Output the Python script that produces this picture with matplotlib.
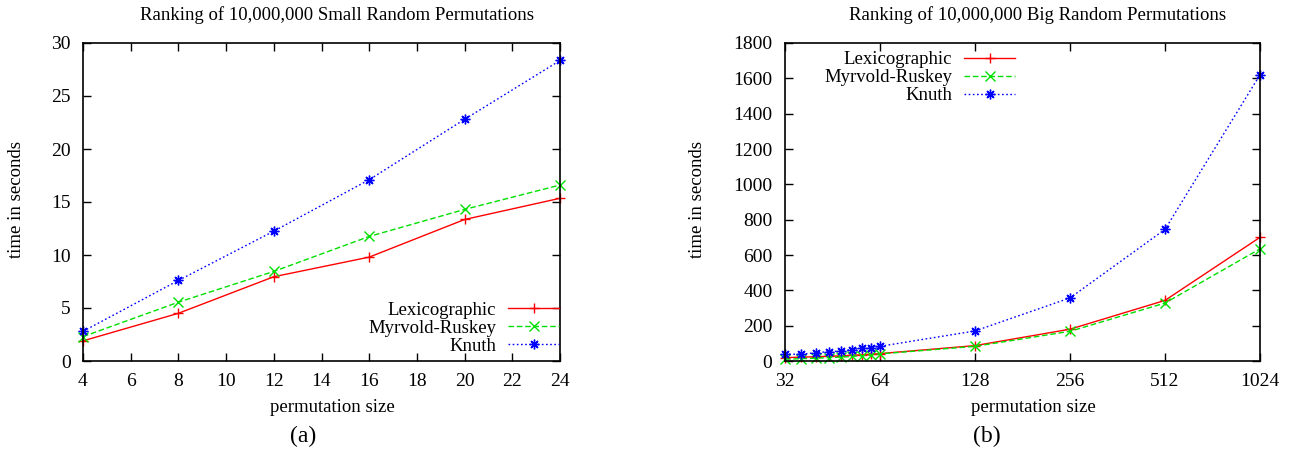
import matplotlib
matplotlib.use('Agg')
import matplotlib.pyplot as plt
from matplotlib.ticker import FixedLocator, NullLocator

plt.rcParams['font.family'] = ['Liberation Serif', 'DejaVu Serif']

# (a) small permutations
small_n = [4, 8, 12, 16, 20, 24]
small_lex = [1.9, 4.5, 7.95, 9.8, 13.35, 15.35]
small_mr = [2.3, 5.55, 8.45, 11.75, 14.3, 16.6]
small_knuth = [2.8, 7.6, 12.25, 17.1, 22.8, 28.35]

# (b) big permutations
big_n = [32, 36, 40, 44, 48, 52, 56, 60, 64, 128, 256, 512, 1024]
big_lex = [19, 22, 24, 27, 29, 32, 35, 38, 42, 87, 180, 343, 700]
big_mr = [10, 13, 16, 19, 22, 26, 30, 34, 40, 83, 168, 328, 635]
big_knuth = [39, 38, 47, 53, 56, 65, 72, 73, 83, 170, 357, 745, 1620]

labels = ['Lexicographic', 'Myrvold-Ruskey', 'Knuth']
colors = ['#ff0000', '#00e000', '#0000ff']
styles = ['-', (0, (4, 2)), (0, (1.2, 1.8))]
markers = ['+', 'x', (8, 2, 0)]

W, H = 1291, 453
fig = plt.figure(figsize=(W / 100, H / 100), dpi=100)
ax1 = fig.add_axes([83/W, 92/H, 477/W, 318/H])
ax2 = fig.add_axes([785/W, 92/H, 475/W, 318/H])

FS = 13.5


def style_axes(ax):
    for s in ax.spines.values():
        s.set_linewidth(1.2)
    ax.tick_params(which='major', direction='in', length=6, width=1,
                   top=True, right=True, labelsize=14, pad=9)


def ftext(x, y, s, **kw):
    fig.text(x / W, 1 - y / H, s, ha='center', va='center', **kw)


for ys, lab, c, ls, m in zip([small_lex, small_mr, small_knuth], labels, colors, styles, markers):
    ax1.plot(small_n, ys, color=c, linestyle=ls, marker=m, markersize=7,
             markeredgewidth=1, linewidth=1, label=lab, clip_on=False)
ax1.set_xlim(4, 24)
ax1.set_ylim(0, 30)
ax1.set_xticks(range(4, 25, 2))
ax1.set_yticks(range(0, 31, 5))
style_axes(ax1)
ax1.legend(loc='lower right', frameon=False, markerfirst=False, fontsize=FS,
           handlelength=2.7, handletextpad=0.65, labelspacing=0.05,
           borderpad=0, borderaxespad=0, bbox_to_anchor=(0.998, 0.02))
ftext(337, 15, 'Ranking of 10,000,000 Small Random Permutations', fontsize=FS)
ftext(332, 408, 'permutation size', fontsize=FS)
ftext(17, 200, 'time in seconds', fontsize=FS, rotation=90)
ftext(303, 436, '(a)', fontsize=17)

for ys, lab, c, ls, m in zip([big_lex, big_mr, big_knuth], labels, colors, styles, markers):
    ax2.plot(big_n, ys, color=c, linestyle=ls, marker=m, markersize=7,
             markeredgewidth=1, linewidth=1, label=lab, clip_on=False)
ax2.set_xscale('log', base=2)
ax2.set_xlim(32, 1024)
ax2.set_ylim(0, 1800)
ax2.xaxis.set_major_locator(FixedLocator([32, 64, 128, 256, 512, 1024]))
ax2.xaxis.set_minor_locator(NullLocator())
ax2.set_xticklabels(['32', '64', '128', '256', '512', '1024'])
ax2.set_yticks(range(0, 1801, 200))
style_axes(ax2)
ax2.legend(loc='upper right', frameon=False, markerfirst=False, fontsize=FS,
           handlelength=2.7, handletextpad=0.65, labelspacing=0.05,
           borderpad=0, borderaxespad=0, bbox_to_anchor=(0.484, 0.975))
ftext(1038, 15, 'Ranking of 10,000,000 Big Random Permutations', fontsize=FS)
ftext(1033, 408, 'permutation size', fontsize=FS)
ftext(697, 200, 'time in seconds', fontsize=FS, rotation=90)
ftext(987, 436, '(b)', fontsize=17)

fig.savefig('out.png', dpi=100)
